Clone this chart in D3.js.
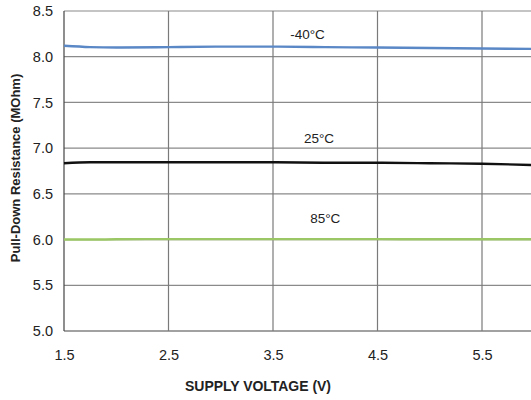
<!DOCTYPE html>
<html>
<head>
<meta charset="utf-8">
<script src="https://cdn.jsdelivr.net/npm/d3@7"></script>
<style>
  body { margin: 0; background: #fff; }
  text { font-family: "Liberation Sans", Arial, sans-serif; fill: #222; }
</style>
</head>
<body>
<script>
const width = 531;
const height = 400;

// values
const voltage = [1.5, 1.75, 2.0, 2.5, 3.0, 3.5, 4.0, 4.5, 5.0, 5.5, 6.0];
const resMinus40 = [8.12, 8.105, 8.1, 8.105, 8.11, 8.11, 8.105, 8.1, 8.095, 8.09, 8.085];
const res25 = [6.835, 6.845, 6.845, 6.845, 6.845, 6.845, 6.84, 6.84, 6.835, 6.83, 6.815];
const res85 = [6.0, 6.0, 6.003, 6.005, 6.005, 6.005, 6.005, 6.005, 6.003, 6.003, 6.003];
const xTicks = [1.5, 2.5, 3.5, 4.5, 5.5];
const yTicks = [5.0, 5.5, 6.0, 6.5, 7.0, 7.5, 8.0, 8.5];

const series = [
  { name: "-40°C", values: resMinus40, color: "#5a87c6", lx: 3.83, ly: 8.19 },
  { name: "25°C", values: res25, color: "#111", lx: 3.94, ly: 7.055 },
  { name: "85°C", values: res85, color: "#9bc764", lx: 4.0, ly: 6.18 }
];

let margin = { top: 11, left: 64, bottom: 69 };

let svg = d3
  .select("body")
  .append("svg")
  .attr("width", width)
  .attr("height", height);

let x = d3.scaleLinear().domain([1.5, 6.0]).range([margin.left, margin.left + 4.5 * 104.5]);
let y = d3.scaleLinear().domain([5.0, 8.5]).range([height - margin.bottom, margin.top]);

// grid
svg.append("g")
  .selectAll("line.h")
  .data(yTicks)
  .join("line")
  .attr("x1", x(1.5))
  .attr("x2", x(6.0))
  .attr("y1", (d) => y(d))
  .attr("y2", (d) => y(d))
  .attr("stroke", (d) => (d == 5.0 ? "#444" : "#8a8a8a"))
  .attr("stroke-width", 1.2);

svg.append("g")
  .selectAll("line.v")
  .data(xTicks.concat([6.0]))
  .join("line")
  .attr("x1", (d) => x(d))
  .attr("x2", (d) => x(d))
  .attr("y1", y(8.5))
  .attr("y2", y(5.0))
  .attr("stroke", (d) => (d == 1.5 ? "#444" : "#7a7a7a"))
  .attr("stroke-width", 1.2);

// axes (labels only)
let xAxis = d3.axisBottom(x).tickValues(xTicks).tickFormat(d3.format(".1f")).tickSize(0).tickPadding(19);
let yAxis = d3.axisLeft(y).tickValues(yTicks).tickFormat(d3.format(".1f")).tickSize(0).tickPadding(11);

svg.append("g")
  .attr("transform", `translate(0, ${y(5.0)})`)
  .call(xAxis)
  .call((g) => g.select(".domain").remove())
  .selectAll("text")
  .style("font-size", "14.5px")
  .style("font-family", "Liberation Sans, Arial, sans-serif")
  .attr("fill", "#222");

svg.append("g")
  .attr("transform", `translate(${x(1.5)}, 0)`)
  .call(yAxis)
  .call((g) => g.select(".domain").remove())
  .selectAll("text")
  .style("font-size", "14.5px")
  .style("font-family", "Liberation Sans, Arial, sans-serif")
  .attr("fill", "#222");

// curves
let line = d3
  .line()
  .x((d, i) => x(voltage[i]))
  .y((d) => y(d))
  .curve(d3.curveMonotoneX);

svg.append("g")
  .selectAll("path")
  .data(series)
  .join("path")
  .attr("d", (d) => line(d.values))
  .attr("fill", "none")
  .attr("stroke", (d) => d.color)
  .attr("stroke-width", 2.4);

svg.append("g")
  .selectAll("text")
  .data(series)
  .join("text")
  .attr("x", (d) => x(d.lx))
  .attr("y", (d) => y(d.ly))
  .attr("text-anchor", "middle")
  .style("font-size", "13.5px")
  .text((d) => d.name);

// axis titles
svg.append("text")
  .attr("x", 258)
  .attr("y", 391)
  .attr("text-anchor", "middle")
  .attr("textLength", 146)
  .style("font-size", "14px")
  .style("font-weight", "bold")
  .text("SUPPLY VOLTAGE (V)");

svg.append("text")
  .attr("transform", "translate(20, 168) rotate(-90)")
  .attr("text-anchor", "middle")
  .style("font-size", "13px")
  .style("font-weight", "bold")
  .text("Pull-Down Resistance (MOhm)");
</script>
</body>
</html>
